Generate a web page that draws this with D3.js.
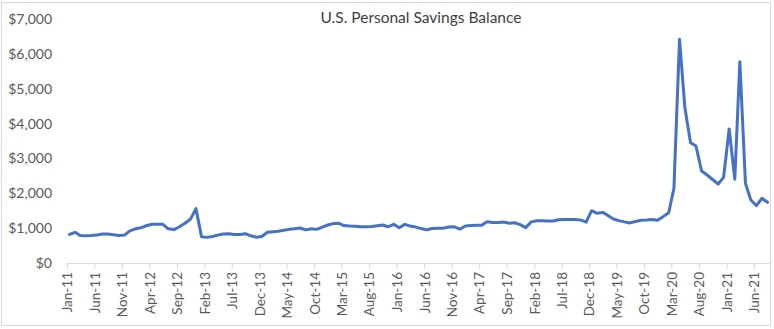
<!DOCTYPE html>
<html>
<head>
<meta charset="utf-8">
<script src="https://cdn.jsdelivr.net/npm/d3@7"></script>
<style>
  html, body { margin: 0; padding: 0; background: #fff; }
  svg { display: block; }
  text { font-family: Lato, "Open Sans", sans-serif; }
</style>
</head>
<body>
<svg id="chart" width="774" height="329"></svg>
<script>
// ---- data ----
const title = "U.S. Personal Savings Balance";
const startYear = 2011, startMonth = 0; // Jan-11
const savings = [
  820, 880, 790, 785, 790, 800, 830, 830, 810, 790, 800, 920,
  980, 1010, 1070, 1110, 1110, 1110, 980, 960, 1040, 1140, 1260, 1560,
  750, 735, 760, 800, 830, 840, 820, 820, 840, 780, 740, 760,
  880, 895, 910, 940, 965, 985, 1005, 950, 985, 965, 1030, 1090,
  1130, 1140, 1075, 1060, 1055, 1040, 1040, 1045, 1070, 1090, 1040, 1110,
  1010, 1110, 1060, 1030, 990, 950, 990, 995, 1000, 1030, 1040, 970,
  1060, 1075, 1080, 1080, 1185, 1160, 1165, 1175, 1140, 1155, 1100, 1015,
  1180, 1210, 1215, 1205, 1205, 1240, 1250, 1250, 1250, 1235, 1170, 1500,
  1425, 1453, 1360, 1262, 1215, 1180, 1150, 1190, 1225, 1235, 1250, 1225,
  1330, 1443, 2142, 6417, 4437, 3452, 3356, 2639, 2524, 2395, 2266, 2458,
  3844, 2401, 5775, 2286, 1807, 1644, 1855, 1741
];
const tickLabels = ["Jan-11","Jun-11","Nov-11","Apr-12","Sep-12","Feb-13","Jul-13","Dec-13",
  "May-14","Oct-14","Mar-15","Aug-15","Jan-16","Jun-16","Nov-16","Apr-17","Sep-17","Feb-18",
  "Jul-18","Dec-18","May-19","Oct-19","Mar-20","Aug-20","Jan-21","Jun-21"];
const yTicks = [0, 1000, 2000, 3000, 4000, 5000, 6000, 7000];

// ---- build ----
const points = savings.map((v, i) => ({ date: new Date(startYear, startMonth + i, 15), value: v }));
const tickDates = tickLabels.map((_, i) => new Date(startYear, startMonth + i * 5, 1));

const svg = d3.select("#chart");
const W = 774, H = 329;
const margin = { left: 67, right: 4, top: 19, bottom: 66 };

svg.append("rect")
  .attr("x", 1.5).attr("y", 2.5).attr("width", 769).attr("height", 323)
  .attr("fill", "#fff").attr("stroke", "#d9d9d9").attr("stroke-width", 1);

const x = d3.scaleTime()
  .domain([new Date(2011, 0, 1), new Date(2021, 7, 29)])
  .range([67, 770]);
const y = d3.scaleLinear().domain([0, 7000]).range([263, 19]);

// title
svg.append("text")
  .attr("x", 421).attr("y", 23)
  .attr("text-anchor", "middle")
  .attr("font-size", 15.5)
  .attr("fill", "#404040")
  .text(title);

// y axis labels (no line)
const fmt = v => "$" + d3.format(",")(v);
svg.append("g").selectAll("text").data(yTicks).join("text")
  .attr("x", 52).attr("y", d => y(d))
  .attr("dy", "0.36em")
  .attr("text-anchor", "end")
  .attr("font-size", 14)
  .attr("fill", "#595959")
  .text(fmt);

// x axis
const xAxis = d3.axisBottom(x)
  .tickValues(tickDates)
  .tickFormat((d, i) => tickLabels[i])
  .tickSize(6)
  .tickSizeOuter(0);
const gx = svg.append("g").attr("transform", "translate(0,263)").call(xAxis);
gx.select(".domain").attr("stroke", "#d9d9d9").attr("d", "M67,0.5H770");
gx.selectAll(".tick line").attr("stroke", "#d9d9d9");
gx.selectAll(".tick text")
  .attr("transform", "rotate(-90)")
  .attr("text-anchor", "end")
  .attr("x", -9).attr("y", 0).attr("dy", "0.36em")
  .attr("font-size", 13.5)
  .attr("font-family", "Lato, 'Open Sans', sans-serif")
  .attr("fill", "#595959");

// line
const line = d3.line().x(d => x(d.date)).y(d => y(d.value));
svg.append("path")
  .datum(points)
  .attr("fill", "none")
  .attr("stroke", "#4472C4")
  .attr("stroke-width", 3)
  .attr("stroke-linejoin", "round")
  .attr("stroke-linecap", "round")
  .attr("d", line);
</script>
</body>
</html>
